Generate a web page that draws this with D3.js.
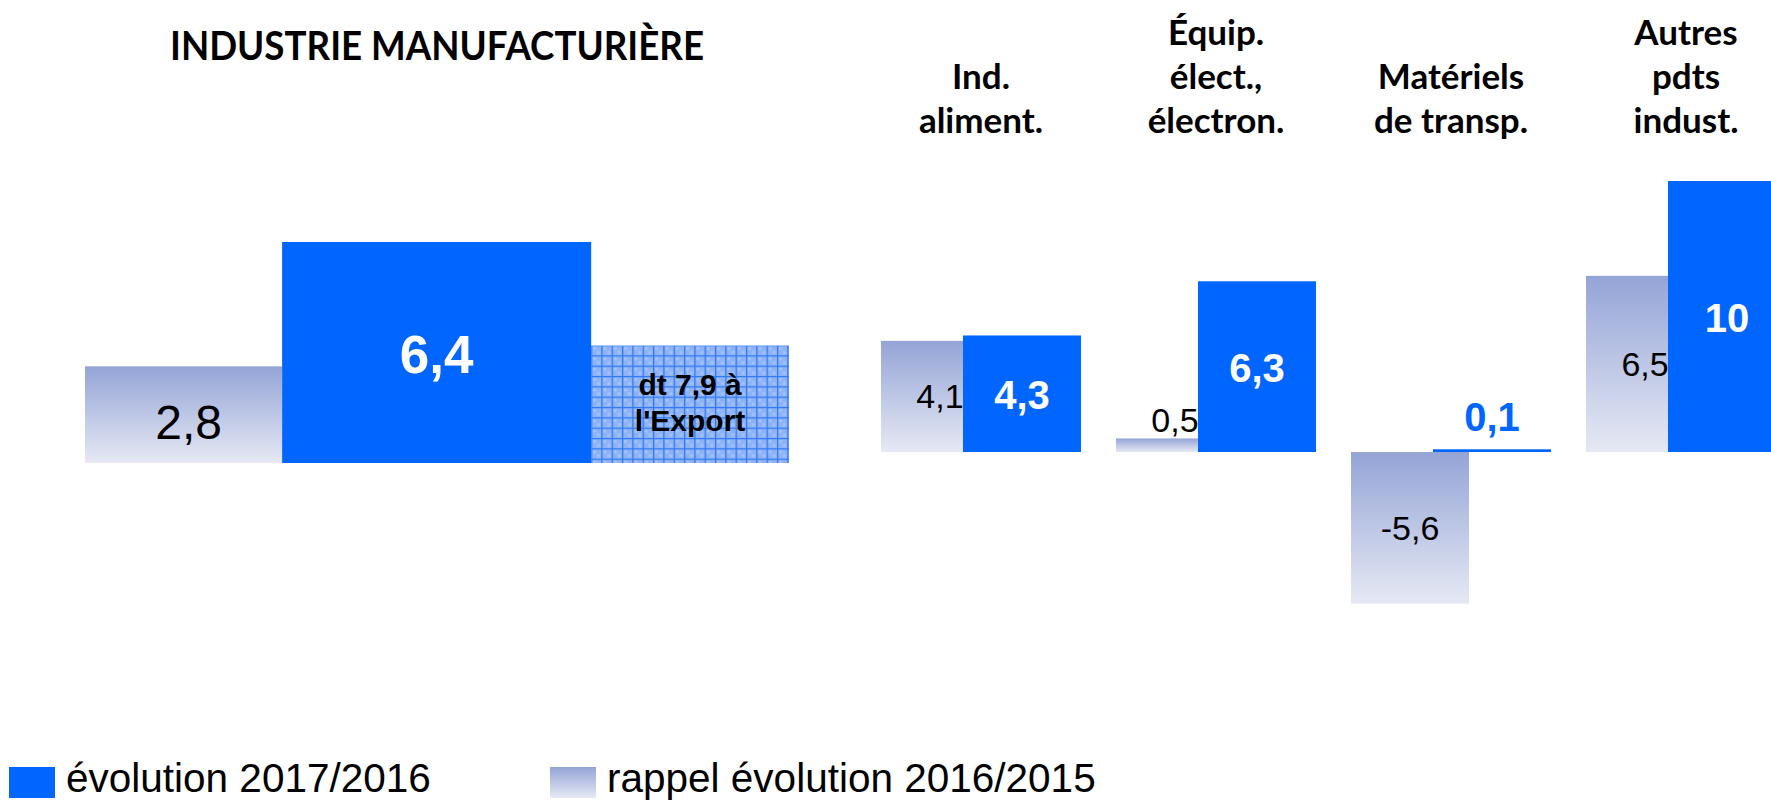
<!DOCTYPE html>
<html>
<head>
<meta charset="utf-8">
<script src="https://cdn.jsdelivr.net/npm/d3@7/dist/d3.min.js"></script>
<style>
html, body { margin: 0; padding: 0; background: #fff; }
svg { display: block; }
</style>
</head>
<body>
<svg id="chart"></svg>
<script>
const w = 1771,
h = 802,
blue = "#0066FF",
grayTop = "#94A4D6",
grayBottom = "#E6E9F4",
numFont = "'Liberation Sans', Arial, sans-serif",
titleFont = "Lato, 'Open Sans', sans-serif";

// left panel : manufacturing industry as a whole
const mainTitle = "INDUSTRIE MANUFACTURIÈRE";
const mainSeries = ["rappel", "evolution", "export"];
const mainValues = [2.8, 6.4, 7.9];
const exportBoxValue = 3.4; // the export box is not drawn to scale
const exportLabel = ["dt 7,9 à", "l'Export"];

// right panel : by sector
const sectors = ["Ind. aliment.", "Équip. élect., électron.", "Matériels de transp.", "Autres pdts indust."];
const sectorLines = [["Ind.", "aliment."], ["Équip.", "élect.,", "électron."], ["Matériels", "de transp."], ["Autres", "pdts", "indust."]];
const rappel = [4.1, 0.5, -5.6, 6.5];
const evolution = [4.3, 6.3, 0.1, 10];

const legendLabels = ["évolution 2017/2016", "rappel évolution 2016/2015"];

const fmt = v => Number.isInteger(v) ? String(v) : v.toFixed(1).replace(".", ",");

const svg = d3.select("#chart")
    .attr("width", w)
    .attr("height", h)
    .attr("viewBox", [0, 0, w, h]);

const defs = svg.append("defs");

const grad = defs.append("linearGradient")
    .attr("id", "grayGrad")
    .attr("x1", 0).attr("y1", 0).attr("x2", 0).attr("y2", 1);
grad.append("stop").attr("offset", "0%").attr("stop-color", grayTop);
grad.append("stop").attr("offset", "100%").attr("stop-color", grayBottom);

const cell = 10.33;
const pat = defs.append("pattern")
    .attr("id", "grid")
    .attr("patternUnits", "userSpaceOnUse")
    .attr("x", 591).attr("y", 345)
    .attr("width", cell).attr("height", cell);
pat.append("rect").attr("width", cell).attr("height", cell).attr("fill", "#8DB2F6");
pat.append("rect").attr("x", 2).attr("y", 2).attr("width", 3).attr("height", 3).attr("fill", "#A4C2F8");
pat.append("rect").attr("x", 6).attr("y", 6).attr("width", 3).attr("height", 3).attr("fill", "#A4C2F8");
pat.append("path")
    .attr("d", `M0,0.6H${cell}M0.6,0V${cell}`)
    .attr("stroke", "#2D78F4")
    .attr("stroke-width", 1.3);

// ---------- left panel ----------
const xLeft = d3.scaleLinear().domain([0, 1]).range([85, 789]);
const leftEdges = [0, 0.28, 0.719, 1];
const yLeft = d3.scaleLinear().domain([0, 6.4]).range([463, 242]);

const leftHeights = mainValues.map((v, i) => mainSeries[i] === "export" ? exportBoxValue : v);
const leftFills = ["url(#grayGrad)", blue, "url(#grid)"];

svg.append("g")
    .selectAll("rect")
    .data(leftHeights)
    .join("rect")
    .attr("x", (d, i) => xLeft(leftEdges[i]))
    .attr("width", (d, i) => xLeft(leftEdges[i + 1]) - xLeft(leftEdges[i]))
    .attr("y", d => yLeft(d))
    .attr("height", d => yLeft(0) - yLeft(d))
    .attr("fill", (d, i) => leftFills[i]);

svg.append("text")
    .attr("x", (xLeft(leftEdges[0]) + xLeft(leftEdges[1])) / 2 + 5)
    .attr("y", (yLeft(mainValues[0]) + yLeft(0)) / 2 + 24)
    .attr("text-anchor", "middle")
    .style("font", `48px ${numFont}`)
    .attr("fill", "#000")
    .text(fmt(mainValues[0]));

svg.append("text")
    .attr("x", (xLeft(leftEdges[1]) + xLeft(leftEdges[2])) / 2)
    .attr("y", (yLeft(mainValues[1]) + yLeft(0)) / 2 + 20)
    .attr("text-anchor", "middle")
    .style("font", `bold 53px ${numFont}`)
    .attr("fill", "#fff")
    .text(fmt(mainValues[1]));

svg.append("g")
    .selectAll("text")
    .data(exportLabel)
    .join("text")
    .attr("x", (xLeft(leftEdges[2]) + xLeft(leftEdges[3])) / 2)
    .attr("y", (d, i) => 395 + i * 36)
    .attr("text-anchor", "middle")
    .style("font", `bold 30px ${numFont}`)
    .attr("fill", "#000")
    .text(d => d);

svg.append("text")
    .attr("x", (xLeft(0) + xLeft(1)) / 2)
    .attr("y", 60)
    .attr("text-anchor", "middle")
    .attr("textLength", 534)
    .attr("lengthAdjust", "spacingAndGlyphs")
    .style("font", `bold 40px ${titleFont}`)
    .attr("fill", "#000")
    .text(mainTitle);

// ---------- right panel ----------
const x = d3.scaleBand()
    .domain(sectors)
    .range([881, 1786])
    .paddingInner(0.149);
const barW = x.bandwidth() * 0.59;
const y = d3.scaleLinear().domain([0, 10]).range([452, 181]);

const rows = sectors.map((s, i) => ({ s, lines: sectorLines[i], r: rappel[i], e: evolution[i] }));

svg.append("g")
    .selectAll("rect")
    .data(rows)
    .join("rect")
    .attr("x", d => x(d.s))
    .attr("width", barW)
    .attr("y", d => y(Math.max(0, d.r)))
    .attr("height", d => Math.abs(y(d.r) - y(0)))
    .attr("fill", "url(#grayGrad)");

svg.append("g")
    .selectAll("rect")
    .data(rows)
    .join("rect")
    .attr("x", d => x(d.s) + x.bandwidth() - barW)
    .attr("width", barW)
    .attr("y", d => y(Math.max(0, d.e)))
    .attr("height", d => Math.abs(y(d.e) - y(0)))
    .attr("fill", blue);

// rappel labels: centred in the bar, or just above a short one
svg.append("g")
    .selectAll("text")
    .data(rows)
    .join("text")
    .attr("x", d => x(d.s) + barW / 2)
    .attr("y", d => Math.abs(y(d.r) - y(0)) < 40 ? y(Math.max(0, d.r)) - 6 : (y(d.r) + y(0)) / 2 + 12)
    .attr("text-anchor", "middle")
    .style("font", `34px ${numFont}`)
    .attr("fill", "#000")
    .text(d => fmt(d.r));

svg.append("g")
    .selectAll("text")
    .data(rows)
    .join("text")
    .attr("x", d => x(d.s) + x.bandwidth() - barW / 2)
    .attr("y", d => Math.abs(y(d.e) - y(0)) < 40 ? y(Math.max(0, d.e)) - 18 : (y(d.e) + y(0)) / 2 + 15)
    .attr("text-anchor", "middle")
    .style("font", `bold 40px ${numFont}`)
    .attr("fill", d => Math.abs(y(d.e) - y(0)) < 40 ? blue : "#fff")
    .text(d => fmt(d.e));

// sector names, bottom aligned
const lineH = 44, lastBase = 133;
svg.append("g")
    .selectAll("text")
    .data(rows)
    .join("text")
    .attr("x", d => x(d.s) + x.bandwidth() / 2)
    .attr("text-anchor", "middle")
    .style("font", `bold 35px ${titleFont}`)
    .attr("fill", "#000")
    .selectAll("tspan")
    .data(d => d.lines.map((t, i) => ({ t, k: d.lines.length - 1 - i })))
    .join("tspan")
    .attr("x", function() { return d3.select(this.parentNode).attr("x"); })
    .attr("y", d => lastBase - d.k * lineH)
    .text(d => d.t);

// ---------- legend ----------
const legend = svg.append("g");
const legendX = [9, 550];
const legendFills = [blue, "url(#grayGrad)"];
legendLabels.forEach((t, i) => {
    legend.append("rect")
        .attr("x", legendX[i]).attr("y", 767)
        .attr("width", 46).attr("height", 31)
        .attr("fill", legendFills[i]);
    legend.append("text")
        .attr("x", legendX[i] + 57).attr("y", 792)
        .style("font", `40.5px ${numFont}`)
        .attr("fill", "#000")
        .text(t);
});
</script>
</body>
</html>
